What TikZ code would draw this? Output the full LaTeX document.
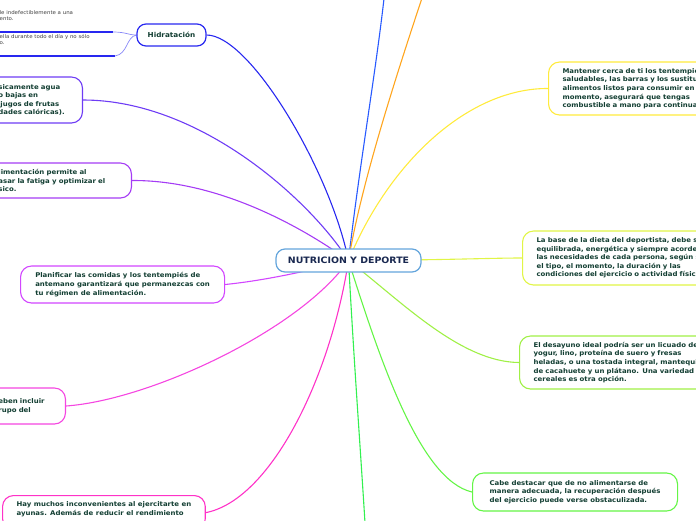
\documentclass[tikz,border=0pt]{standalone}
\usepackage{fontspec}
\setmainfont[FakeStretch=1.07]{DejaVu Sans}
\usetikzlibrary{backgrounds}
\definecolor{txt}{RGB}{18,62,50}
\definecolor{navy}{RGB}{25,40,80}
\definecolor{cmain}{RGB}{100,165,220}
\definecolor{c1}{RGB}{40,40,240}
\definecolor{c2}{RGB}{40,90,255}
\definecolor{c3}{RGB}{255,165,30}
\definecolor{c4}{RGB}{255,235,60}
\definecolor{c5}{RGB}{225,245,70}
\definecolor{c6}{RGB}{160,240,70}
\definecolor{c7}{RGB}{100,245,70}
\definecolor{c8}{RGB}{50,240,80}
\definecolor{c9}{RGB}{255,50,200}
\definecolor{c10}{RGB}{245,70,225}
\definecolor{c11}{RGB}{210,70,255}
\definecolor{c12}{RGB}{165,60,245}
\definecolor{c13}{RGB}{110,60,245}
\begin{document}
\begin{tikzpicture}[x=1pt,y=-1pt,
  every node/.style={font=\bfseries\fontsize{6.5}{8.6}\selectfont, text=txt},
  leaf/.style={draw, fill=white, rounded corners=11pt, line width=1.1pt, align=left, inner xsep=14pt, inner ysep=5pt},
  topic/.style={draw, fill=white, rounded corners=9pt, line width=1.2pt},
  hleaf/.style={font=\fontsize{5.1}{6.2}\selectfont, text=black!75, align=left, inner sep=0pt, anchor=base west},
  edge/.style={line width=1.1pt}]
\useasboundingbox (0,0) rectangle (696,520);
% vertices
\node[topic, draw=cmain, minimum width=145pt, minimum height=23pt, font=\bfseries\fontsize{8.8}{10}\selectfont, text=navy] (0) at (348.5,260.5) {NUTRICION Y DEPORTE};
\node[topic, draw=c1, minimum width=69pt, minimum height=22pt, font=\bfseries\fontsize{6.8}{8}\selectfont] (1) at (171.5,35) {Hidratación};
\coordinate (2) at (386,-20);
\coordinate (3) at (428,-20);
\node[leaf, draw=c4, anchor=west, text width=210pt, minimum height=53pt] (4) at (548,88.5) {Mantener cerca de ti los tentempiés\\ saludables, las barras y los sustitutos de\\ alimentos listos para consumir en todo\\ momento, asegurará que tengas\\ combustible a mano para continuar.};
\node[leaf, draw=c5, anchor=west, text width=220pt, minimum height=54pt] (5) at (522,258) {La base de la dieta del deportista, debe ser\\ equilibrada, energética y siempre acorde a\\ las necesidades de cada persona, según sea\\ el tipo, el momento, la duración y las\\ condiciones del ejercicio o actividad física.};
\node[leaf, draw=c6, anchor=west, text width=220pt, minimum height=53pt] (6) at (519,362.5) {El desayuno ideal podría ser un licuado de\\ yogur, lino, proteína de suero y fresas\\ heladas, o una tostada integral, mantequilla\\ de cacahuete y un plátano. Una variedad de\\ cereales es otra opción.};
\node[leaf, draw=c7, anchor=west, minimum width=205pt, minimum height=38pt] (7) at (472,492) {Cabe destacar que de no alimentarse de\\ manera adecuada, la recuperación después\\ del ejercicio puede verse obstaculizada.};
\coordinate (8) at (366,540);
\node[leaf, draw=c9, anchor=north west, minimum width=202pt, inner ysep=6pt] (9) at (2,495) {Hay muchos inconvenientes al ejercitarte en\\ ayunas. Además de reducir el rendimiento\\ \mbox{}};
\node[leaf, draw=c10, anchor=east, text width=53pt, minimum height=36pt] (10) at (66,406) {eben incluir\\ rupo del\\[3pt]};
\node[leaf, draw=c11, anchor=west, minimum width=204pt, minimum height=37pt] (11) at (20,284.5) {Planificar las comidas y los tentempiés de\\ antemano garantizará que permanezcas con\\ tu régimen de alimentación.};
\node[leaf, draw=c12, anchor=east, text width=119pt, minimum height=35pt] (12) at (132,180.5) {limentación permite al\\ asar la fatiga y optimizar el\\ sico.};
\node[leaf, draw=c13, anchor=east, text width=70pt, minimum height=46pt] (13) at (83,100) {sicamente agua\\ o bajas en\\ \hspace{2pt}jugos de frutas\\ dades calóricas).};
% hidratacion leaves
\node[hleaf] (1a) at (-0.5,20.5) {le indefectiblemente a una\\ento.};
\node[hleaf] (1b) at (-0.5,44.5) {ella durante todo el día y no sólo\\o.};
\coordinate (1a1) at (-2,32);
\coordinate (1a2) at (113,32);
\coordinate (1b1) at (-2,56);
\coordinate (1b2) at (115,56);
%edges
\begin{scope}[on background layer]
\draw[c1, line width=1.6pt] (1a1) -- (1a2);
\draw[c1, line width=1.6pt] (1b1) -- (1b2);
\draw[c1!55, line width=0.7pt] (1a2) .. controls (126,32) and (128,35) .. (1.west);
\draw[c1!55, line width=0.7pt] (1b2) .. controls (128,54) and (126,37) .. (1.west);
\draw[edge, c1] (1.east) .. controls (250,35) and (330,170) .. (0.center);
\draw[edge, c2] (0.center) .. controls (360,160) and (378,60) .. (2);
\draw[edge, c3] (0.center) .. controls (362,180) and (398,70) .. (3);
\draw[edge, c4] (0.center) .. controls (390,160) and (470,88) .. (4.west);
\draw[edge, c5] (0.center) .. controls (450,260) and (490,258) .. (5.west);
\draw[edge, c6] (0.center) .. controls (400,300) and (460,362) .. (6.west);
\draw[edge, c7] (0.center) .. controls (380,360) and (420,480) .. (7.west);
\draw[edge, c8] (0.center) .. controls (355,380) and (362,470) .. (8);
\draw[edge, c9] (0.center) .. controls (330,380) and (270,500) .. (9.east);
\draw[edge, c10] (10.east) .. controls (150,400) and (300,330) .. (0.center);
\draw[edge, c11] (11.east) .. controls (270,280) and (320,268) .. (0.center);
\draw[edge, c12] (12.east) .. controls (230,180) and (320,240) .. (0.center);
\draw[edge, c13] (13.east) .. controls (200,100) and (310,200) .. (0.center);
\end{scope}
\end{tikzpicture}
\end{document}
